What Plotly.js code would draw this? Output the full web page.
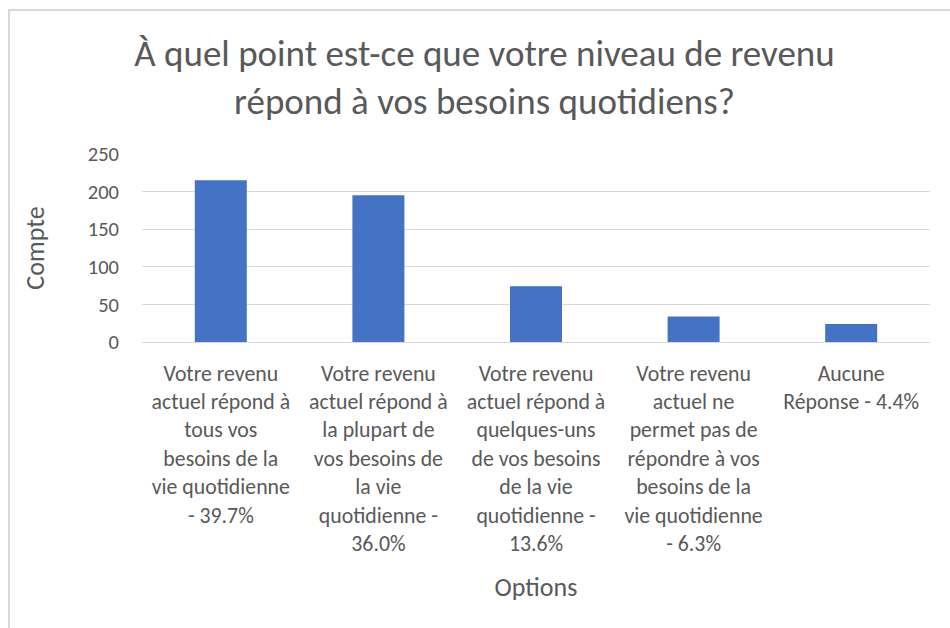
<!DOCTYPE html>
<html>
<head>
<meta charset="utf-8">
<script src="https://cdn.plot.ly/plotly-3.0.1.min.js"></script>
<style>html,body{margin:0;padding:0;background:#fff;overflow:hidden}#chart{width:950px;height:628px}</style>
</head>
<body>
<div id="chart"></div>
<script>
const categories = [
  "Votre revenu<br>actuel répond à<br>tous vos<br>besoins de la<br>vie quotidienne<br>- 39.7%",
  "Votre revenu<br>actuel répond à<br>la plupart de<br>vos besoins de<br>la vie<br>quotidienne -<br>36.0%",
  "Votre revenu<br>actuel répond à<br>quelques-uns<br>de vos besoins<br>de la vie<br>quotidienne -<br>13.6%",
  "Votre revenu<br>actuel ne<br>permet pas de<br>répondre à vos<br>besoins de la<br>vie quotidienne<br>- 6.3%",
  "Aucune<br>Réponse - 4.4%"
];
const counts = [215, 195, 74, 34, 24];
const yTicks = [0, 50, 100, 150, 200, 250];

const FONT = "Carlito, 'Liberation Sans Narrow', 'Open Sans', sans-serif";
const ml = 142, mr = 20, mt = 154, mb = 286;
const pw = 950 - ml - mr, ph = 628 - mt - mb;

const layout = {
  width: 950, height: 628,
  margin: {l: ml, r: mr, t: mt, b: mb, pad: 0},
  paper_bgcolor: "#ffffff", plot_bgcolor: "#ffffff",
  font: {family: FONT, color: "#595959", size: 20},
  showlegend: false,
  bargap: 0.67,
  title: {
    text: "À quel point est-ce que votre niveau de revenu<br>répond à vos besoins quotidiens?",
    font: {family: FONT, size: 37, color: "#595959"},
    x: 0.51, xref: "container", xanchor: "center",
    y: 0.895, yref: "container", yanchor: "middle"
  },
  xaxis: {
    type: "category",
    showgrid: false, showline: false, zeroline: false,
    ticks: "", ticklabelstandoff: 16,
    tickfont: {family: FONT, size: 21.8, color: "#595959"},
    title: {text: "Options", font: {family: FONT, size: 26, color: "#595959"}, standoff: 21}
  },
  yaxis: {
    range: [0, 250],
    tickvals: yTicks,
    showgrid: true, gridcolor: "#d9d9d9", gridwidth: 1,
    zeroline: true, zerolinecolor: "#d9d9d9", zerolinewidth: 1,
    showline: false, ticks: "", ticklabelstandoff: 22,
    tickfont: {family: FONT, size: 20.5, color: "#595959"},
    title: {text: "Compte", font: {family: FONT, size: 26, color: "#595959"}, standoff: 35}
  },
  shapes: [{
    type: "rect", xref: "paper", yref: "paper", layer: "below",
    x0: (9 - ml) / pw, x1: (1000 - ml) / pw,
    y0: (628 - mb - 10) / ph, y1: (628 - mb - 700) / ph,
    line: {color: "#d9d9d9", width: 2}, fillcolor: "rgba(0,0,0,0)"
  }]
};

Plotly.newPlot("chart", [{
  type: "bar", x: categories, y: counts,
  marker: {color: "#4472c4"}, hoverinfo: "none", cliponaxis: false
}], layout, {displayModeBar: false, staticPlot: true});
</script>
</body>
</html>
